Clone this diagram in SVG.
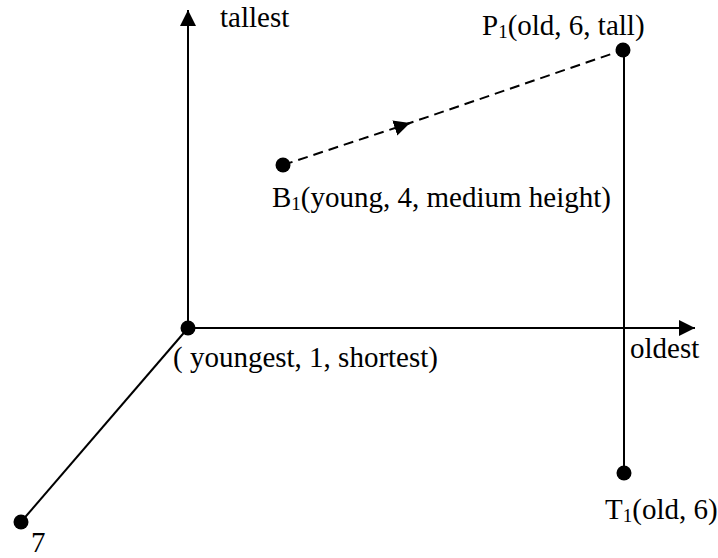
<svg xmlns="http://www.w3.org/2000/svg" width="718" height="558" viewBox="0 0 718 558">
<defs>
<style>
.ln{stroke:#000;stroke-width:2;fill:none}
.ds{stroke:#000;stroke-width:2;fill:none;stroke-dasharray:10,6}
.dot{fill:#000}
.lbl{font-family:'Liberation Serif','Times New Roman',serif;font-size:29px;fill:#000}
.sub{font-size:19px}
</style>
<marker id="ah" viewBox="0 0 16 16" refX="16" refY="8" markerWidth="16" markerHeight="16" markerUnits="userSpaceOnUse" orient="auto">
<path d="M0,0 L16,8 L0,16 Z" fill="#000"/>
</marker>
</defs>
<rect width="718" height="558" fill="#fff"/>
<g id="connectors">
<line class="ln" x1="188" y1="328" x2="188" y2="10" marker-end="url(#ah)"/>
<line class="ln" x1="188" y1="328" x2="695" y2="328" marker-end="url(#ah)"/>
<line class="ln" x1="188" y1="328" x2="21" y2="522"/>
<line class="ln" x1="624" y1="50" x2="624" y2="473"/>
<line class="ds" x1="283" y1="165" x2="410" y2="123" marker-end="url(#ah)"/>
<line class="ds" x1="404" y1="125" x2="623" y2="50"/>
</g>
<g id="origin"><circle class="dot" cx="188" cy="328" r="7.5"/><text class="lbl" x="173" y="367">( youngest, 1, shortest)</text></g>
<g id="tallest"><text class="lbl" x="220" y="27">tallest</text></g>
<g id="oldest"><text class="lbl" x="630" y="358">oldest</text></g>
<g id="P1"><circle class="dot" cx="623" cy="50" r="7.5"/><text class="lbl" x="482" y="35">P<tspan class="sub" dy="3">1</tspan><tspan dy="-3">(old, 6, tall)</tspan></text></g>
<g id="B1"><circle class="dot" cx="283" cy="165" r="7.5"/><text class="lbl" x="272" y="207">B<tspan class="sub" dy="3">1</tspan><tspan dy="-3">(young, 4, medium height)</tspan></text></g>
<g id="T1"><circle class="dot" cx="624" cy="473" r="7.5"/><text class="lbl" x="605" y="519">T<tspan class="sub" dy="3">1</tspan><tspan dy="-3">(old, 6)</tspan></text></g>
<g id="seven"><circle class="dot" cx="21" cy="522" r="7.5"/><text class="lbl" x="31" y="552">7</text></g>
</svg>
